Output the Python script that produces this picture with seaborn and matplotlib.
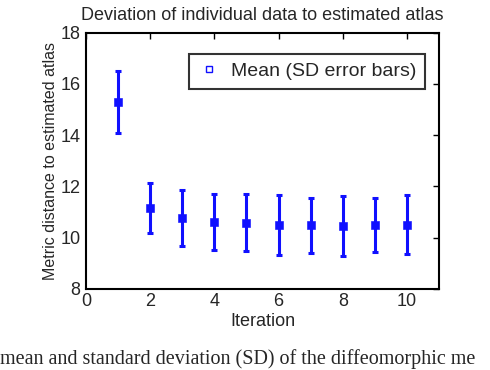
import numpy as np
import pandas as pd
import seaborn as sns
import matplotlib.pyplot as plt
from matplotlib.lines import Line2D

# values
iteration = [1, 2, 3, 4, 5, 6, 7, 8, 9, 10]
mean_dist = [15.3, 11.15, 10.77, 10.6, 10.59, 10.5, 10.49, 10.45, 10.49, 10.5]
sd_dist = [1.2, 0.98, 1.1, 1.09, 1.12, 1.17, 1.07, 1.17, 1.06, 1.15]

df = pd.DataFrame({'iteration': iteration, 'mean': mean_dist, 'sd': sd_dist})

sns.set_style('white')
plt.rcParams['font.family'] = ['Liberation Sans', 'DejaVu Sans']

fig = plt.figure(figsize=(4.9, 3.7), dpi=100)
ax = fig.add_axes([0.1755, 0.219, 0.7205, 0.693])

blue = '#1010ff'
ax.errorbar(df['iteration'], df['mean'], yerr=df['sd'], fmt='none',
            ecolor=blue, elinewidth=2.2, capsize=2.3, capthick=2.2)
sns.scatterplot(data=df, x='iteration', y='mean', marker='s', s=28,
                color=blue, edgecolor=blue, ax=ax, legend=False, zorder=3)

ax.set_xlim(0, 11)
ax.set_ylim(8, 18)
ax.set_xticks([0, 2, 4, 6, 8, 10])
ax.set_yticks([8, 10, 12, 14, 16, 18])
ax.tick_params(direction='in', length=4, width=1, top=True, right=True,
               labelsize=13, color='black')
ax.tick_params(axis='x', pad=3)
ax.tick_params(axis='y', pad=4)
for s in ax.spines.values():
    s.set_color('black')
    s.set_linewidth(1.5)

ax.set_title('Deviation of individual data to estimated atlas', fontsize=13, pad=9)
ax.set_xlabel('Iteration', fontsize=13, labelpad=2)
ax.set_ylabel('Metric distance to estimated atlas', fontsize=11.5, labelpad=2)

handle = Line2D([], [], marker='s', linestyle='none', markersize=5,
                markerfacecolor='white', markeredgecolor=blue)
leg = ax.legend([handle], ['Mean (SD error bars)'], loc='upper right',
                bbox_to_anchor=(0.96, 0.917), borderaxespad=0, fontsize=14,
                frameon=True, fancybox=False, edgecolor='black',
                handletextpad=0.5, borderpad=0.45, handlelength=1.2)
leg.get_frame().set_linewidth(1.5)

# caption under the figure (cropped in the source)
fig.text(0.0, 0.003, 'mean and standard deviation (SD) of the diffeomorphic me',
         fontsize=14.5, family=['Liberation Serif', 'DejaVu Serif'], va='bottom')

fig.savefig('out.png', dpi=100)
